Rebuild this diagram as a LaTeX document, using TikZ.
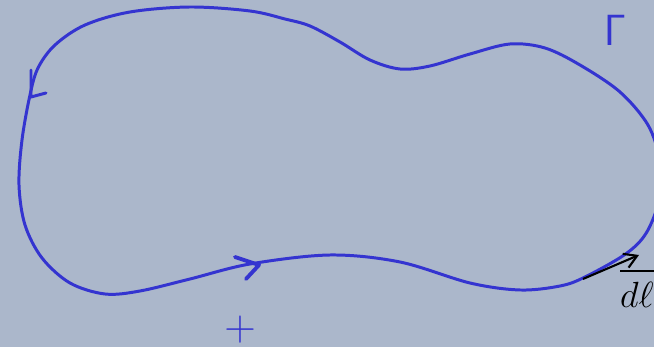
\documentclass[tikz,border=0pt]{standalone}
\usepackage{xcolor}
\usepackage{amssymb}
\usetikzlibrary{arrows.meta}
\definecolor{paper}{RGB}{171,183,203}
\definecolor{ink}{RGB}{52,52,208}
\begin{document}
\begin{tikzpicture}[
    x=0.02cm, y=-0.02cm,
    loop/.style={ink, line width=1.7pt, line cap=round, line join=round},
    tick/.style={ink, line width=2.2pt, line cap=round, line join=round},
    vec/.style={-{Straight Barb[length=2.5mm,width=3mm]}, line width=1.2pt, black}
]
\fill[paper] (0,0) rectangle (654,347);
\useasboundingbox (0,0) rectangle (654,347);
\clip (0,0) rectangle (654,347);

% the closed contour
\draw[loop] plot[smooth cycle, tension=0.55] coordinates {
  (30,95) (22,140) (19,185) (25,225) (42,258) (70,283) (105,294) (140,291)
  (190,279) (250,264) (330,255) (400,262) (470,283) (520,290) (560,286)
  (585,277) (627,253) (648,230) (662,190) (660,160) (648,125) (620,92)
  (580,65) (545,48) (510,44) (470,54) (430,66) (400,69) (370,60) (340,42)
  (310,26) (285,19) (250,11) (190,7) (130,12) (85,25) (55,45) (38,68)};

% direction marks
\draw[loop] (31,70) -- (31,97) -- (46,93);
\draw[tick] (235,257) -- (259,265) -- (246,279);

\node[ink, font=\fontsize{26}{26}\selectfont] (gamma) at (615,30) {$\mathsf{\Gamma}$};
\node[ink, font=\fontsize{30}{30}\selectfont] (plus) at (240,330) {$+$};

% line element
\coordinate (dlstart) at (583,279);
\coordinate (dlend) at (639,255);
\draw[vec] (dlstart) -- (dlend);
\node[font=\fontsize{21}{21}\selectfont, anchor=west] (dl) at (614,295) {$d\ell$};
\draw[line width=1.2pt] (620,271) -- (660,271);
\end{tikzpicture}
\end{document}
